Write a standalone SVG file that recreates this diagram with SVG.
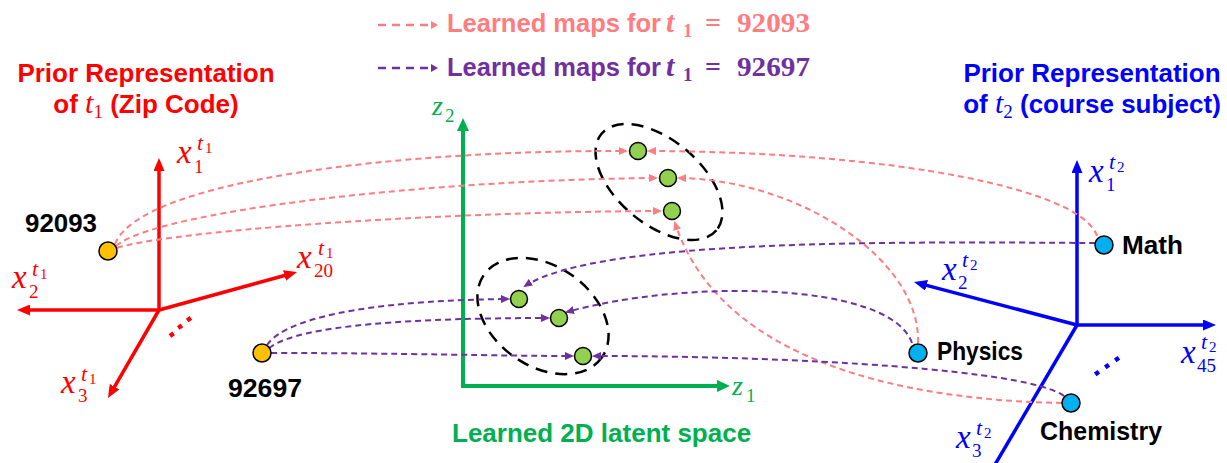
<svg xmlns="http://www.w3.org/2000/svg" width="1227" height="463" viewBox="0 0 1227 463">
<style>
.title{font-family:"Liberation Sans",Arial,sans-serif;font-weight:bold;font-size:26px}
.leg{font-family:"Liberation Sans",Arial,sans-serif;font-weight:bold;font-size:26px}
.legm{font-family:"Liberation Serif","DejaVu Serif",serif;font-weight:bold}
.lt{font-style:italic;font-size:30px}
.ls{font-size:19px}
.le{font-size:28px}
.lbl{font-family:"Liberation Sans",Arial,sans-serif;font-weight:bold;font-size:25px;fill:#000}
.mx{font-family:"Liberation Serif","DejaVu Serif",serif;font-style:italic;font-size:33px}
.ms{font-family:"Liberation Serif","DejaVu Serif",serif;font-size:19px}
.mt{font-family:"Liberation Serif","DejaVu Serif",serif;font-style:italic;font-size:22px}
.mss{font-family:"Liberation Serif","DejaVu Serif",serif;font-size:15px}
.mz{font-family:"Liberation Serif","DejaVu Serif",serif;font-style:italic;font-size:28px;fill:#00B050}
.red{fill:#FF0000}.blue{fill:#0000FF}
.axr{stroke:#FF0000;stroke-width:3.5;fill:none}
.axb{stroke:#0000FF;stroke-width:3.5;fill:none}
.axg{stroke:#00B050;stroke-width:4;fill:none}
.cs{stroke:#FF7C80;stroke-width:2;stroke-dasharray:6 4;fill:none;marker-end:url(#ahs)}
.cp{stroke:#7030A0;stroke-width:2;stroke-dasharray:6 4;fill:none;marker-end:url(#ahp)}
.grp{fill:none;stroke:#000;stroke-width:2.5;stroke-dasharray:12 8}
.gd{fill:#92D050;stroke:#000;stroke-width:1.5}
.yd{fill:#FFC000;stroke:#000;stroke-width:1.5}
.bd{fill:#00B0F0;stroke:#000;stroke-width:1.5}
</style>
<defs>
<marker id="ahr" viewBox="0 0 13 11" refX="3" refY="5.5" markerWidth="13" markerHeight="11" markerUnits="userSpaceOnUse" orient="auto"><path d="M0,0 L13,5.5 L0,11 z" fill="#FF0000"/></marker>
<marker id="ahb" viewBox="0 0 13 11" refX="3" refY="5.5" markerWidth="13" markerHeight="11" markerUnits="userSpaceOnUse" orient="auto"><path d="M0,0 L13,5.5 L0,11 z" fill="#0000FF"/></marker>
<marker id="ahg" viewBox="0 0 13 12" refX="3" refY="6" markerWidth="13" markerHeight="12" markerUnits="userSpaceOnUse" orient="auto"><path d="M0,0 L13,6 L0,12 z" fill="#00B050"/></marker>
<marker id="ahs" viewBox="0 0 9 8" refX="7" refY="4" markerWidth="9" markerHeight="8" markerUnits="userSpaceOnUse" orient="auto"><path d="M0,0 L9,4 L0,8 z" fill="#FF7C80"/></marker>
<marker id="ahp" viewBox="0 0 9 8" refX="7" refY="4" markerWidth="9" markerHeight="8" markerUnits="userSpaceOnUse" orient="auto"><path d="M0,0 L9,4 L0,8 z" fill="#7030A0"/></marker>
</defs>
<rect width="1227" height="463" fill="#fff"/>

<g id="legend">
<line x1="378" y1="25" x2="430" y2="25" stroke="#FF7C80" stroke-width="2.5" stroke-dasharray="8 6"/>
<path d="M431,21 L438,25 L431,29 z" fill="#FF7C80"/>
<g fill="#FF7C80">
<text class="leg" x="447" y="32" textLength="214" lengthAdjust="spacingAndGlyphs">Learned maps for</text>
<text class="legm lt" x="666" y="32">t</text>
<text class="legm ls" x="683" y="37">1</text>
<text class="legm le" x="705" y="32">=</text>
<text class="legm le" x="737" y="32" textLength="73" lengthAdjust="spacingAndGlyphs">92093</text>
</g>
<line x1="378" y1="68" x2="430" y2="68" stroke="#7030A0" stroke-width="2.5" stroke-dasharray="8 6"/>
<path d="M431,64 L438,68 L431,72 z" fill="#7030A0"/>
<g fill="#7030A0">
<text class="leg" x="447" y="76" textLength="214" lengthAdjust="spacingAndGlyphs">Learned maps for</text>
<text class="legm lt" x="666" y="76">t</text>
<text class="legm ls" x="683" y="81">1</text>
<text class="legm le" x="705" y="76">=</text>
<text class="legm le" x="737" y="76" textLength="73" lengthAdjust="spacingAndGlyphs">92697</text>
</g>
</g>

<g id="zip-space">
<text class="title red" x="146" y="82" text-anchor="middle">Prior Representation</text>
<text class="title red" x="146" y="113" text-anchor="middle">of <tspan font-family="Liberation Serif,serif" font-style="italic" font-weight="normal" font-size="30">t</tspan><tspan font-family="Liberation Serif,serif" font-weight="normal" font-size="19" dy="5">1</tspan><tspan dy="-5"> (Zip Code)</tspan></text>
<line class="axr" x1="159" y1="310" x2="159" y2="168" marker-end="url(#ahr)"/>
<line class="axr" x1="159" y1="310" x2="27" y2="310" marker-end="url(#ahr)"/>
<line class="axr" x1="159" y1="310" x2="287.4" y2="274.7" marker-end="url(#ahr)"/>
<line class="axr" x1="159" y1="310" x2="113" y2="389.3" marker-end="url(#ahr)"/>
<g class="red">
<rect x="169.5" y="332.5" width="4.5" height="4.5" transform="rotate(-35 171.7 334.7)"/>
<rect x="177.8" y="324.5" width="4.5" height="4.5" transform="rotate(-35 180 326.7)"/>
<rect x="186.8" y="317" width="4.5" height="4.5" transform="rotate(-35 189 319.3)"/>
</g>
<g class="red">
<text class="mx" x="177" y="163">x</text><text class="ms" x="194" y="173">1</text><text class="mt" x="197" y="150">t</text><text class="mss" x="205" y="153">1</text>
<text class="mx" x="12" y="288">x</text><text class="ms" x="29" y="298">2</text><text class="mt" x="32" y="276">t</text><text class="mss" x="40" y="279">1</text>
<text class="mx" x="297" y="268">x</text><text class="ms" x="314" y="277">20</text><text class="mt" x="318" y="255">t</text><text class="mss" x="326" y="258">1</text>
<text class="mx" x="61" y="393">x</text><text class="ms" x="78" y="402">3</text><text class="mt" x="81" y="381">t</text><text class="mss" x="89" y="384">1</text>
</g>
</g>

<g id="latent-space">
<line class="axg" x1="463" y1="386" x2="463" y2="128" marker-end="url(#ahg)"/>
<line class="axg" x1="461" y1="386" x2="720" y2="386" marker-end="url(#ahg)"/>
<text class="mz" x="432" y="115">z</text><text class="ms" x="445" y="122" fill="#00B050">2</text>
<text class="mz" x="732" y="395">z</text><text class="ms" x="746" y="402" fill="#00B050">1</text>
<text class="title" x="452" y="442" fill="#00B050">Learned 2D latent space</text>
</g>

<g id="subject-space">
<text class="title blue" x="1092" y="82" text-anchor="middle">Prior Representation</text>
<text class="title blue" x="1092" y="113" text-anchor="middle">of <tspan font-family="Liberation Serif,serif" font-style="italic" font-weight="normal" font-size="30">t</tspan><tspan font-family="Liberation Serif,serif" font-weight="normal" font-size="19" dy="5">2</tspan><tspan dy="-5"> (course subject)</tspan></text>
<line class="axb" x1="1077" y1="325" x2="1077" y2="170" marker-end="url(#ahb)"/>
<line class="axb" x1="1077" y1="325" x2="1206" y2="325" marker-end="url(#ahb)"/>
<line class="axb" x1="1077" y1="325" x2="923.7" y2="284.6" marker-end="url(#ahb)"/>
<line class="axb" x1="1077" y1="325" x2="993" y2="468"/>
<g class="blue">
<rect x="1094.8" y="370.8" width="4.5" height="4.5" transform="rotate(-35 1097 373)"/>
<rect x="1104.8" y="363.8" width="4.5" height="4.5" transform="rotate(-35 1107 366)"/>
<rect x="1114.8" y="356.8" width="4.5" height="4.5" transform="rotate(-35 1117 359)"/>
</g>
<g class="blue">
<text class="mx" x="1089" y="182">x</text><text class="ms" x="1106" y="191">1</text><text class="mt" x="1109" y="169">t</text><text class="mss" x="1117" y="172">2</text>
<text class="mx" x="942" y="280">x</text><text class="ms" x="958" y="289">2</text><text class="mt" x="962" y="267">t</text><text class="mss" x="970" y="270">2</text>
<text class="mx" x="1181" y="363">x</text><text class="ms" x="1197" y="372">45</text><text class="mt" x="1201" y="349">t</text><text class="mss" x="1209" y="352">2</text>
<text class="mx" x="956" y="448">x</text><text class="ms" x="972" y="457">3</text><text class="mt" x="976" y="435">t</text><text class="mss" x="984" y="438">2</text>
</g>
</g>

<g id="clusters">
<ellipse class="grp" cx="659" cy="182" rx="75" ry="42" transform="rotate(40 659 182)"/>
<ellipse class="grp" cx="543" cy="316" rx="72" ry="50" transform="rotate(35 543 316)"/>
</g>

<g id="connectors">
<path class="cs" d="M115,244 C140,180 400,150 626,151"/>
<path class="cs" d="M116,246 C155,212 420,180 656,178"/>
<path class="cs" d="M117,248 C165,232 420,212 660,211"/>
<path class="cs" d="M1097,236 C1082,190 900,152 649,151"/>
<path class="cs" d="M918,343 C921,260 800,180 679,178"/>
<path class="cs" d="M1062,403 C900,400 720,360 675,223"/>
<path class="cp" d="M267,345 C290,312 400,300 508,299"/>
<path class="cp" d="M269,348 C300,324 420,318 548,318"/>
<path class="cp" d="M271,353 C400,353 500,356 572,356"/>
<path class="cp" d="M1095,243 C900,242 600,238 525,286"/>
<path class="cp" d="M912,343 C890,280 680,280 567,312"/>
<path class="cp" d="M1064,396 C1030,370 800,356 594,356"/>
</g>

<g id="latent-points">
<circle class="gd" cx="638" cy="151" r="8.5"/>
<circle class="gd" cx="668" cy="178" r="8.5"/>
<circle class="gd" cx="672" cy="211" r="8.5"/>
<circle class="gd" cx="519" cy="299" r="8.5"/>
<circle class="gd" cx="559" cy="318" r="8.5"/>
<circle class="gd" cx="583" cy="356" r="8.5"/>
</g>

<g id="node-92093">
<circle class="yd" cx="108" cy="251" r="9"/>
<text class="lbl" x="25" y="232" textLength="72" lengthAdjust="spacingAndGlyphs">92093</text>
</g>
<g id="node-92697">
<circle class="yd" cx="262" cy="353" r="9"/>
<text class="lbl" x="228" y="397" textLength="74" lengthAdjust="spacingAndGlyphs">92697</text>
</g>
<g id="node-math">
<circle class="bd" cx="1104" cy="245" r="9"/>
<text class="lbl" x="1122" y="254" textLength="61" lengthAdjust="spacingAndGlyphs">Math</text>
</g>
<g id="node-physics">
<circle class="bd" cx="918" cy="353" r="9"/>
<text class="lbl" x="937" y="360" textLength="86" lengthAdjust="spacingAndGlyphs">Physics</text>
</g>
<g id="node-chemistry">
<circle class="bd" cx="1071" cy="403" r="9"/>
<text class="lbl" x="1040" y="440" textLength="122" lengthAdjust="spacingAndGlyphs">Chemistry</text>
</g>
</svg>
